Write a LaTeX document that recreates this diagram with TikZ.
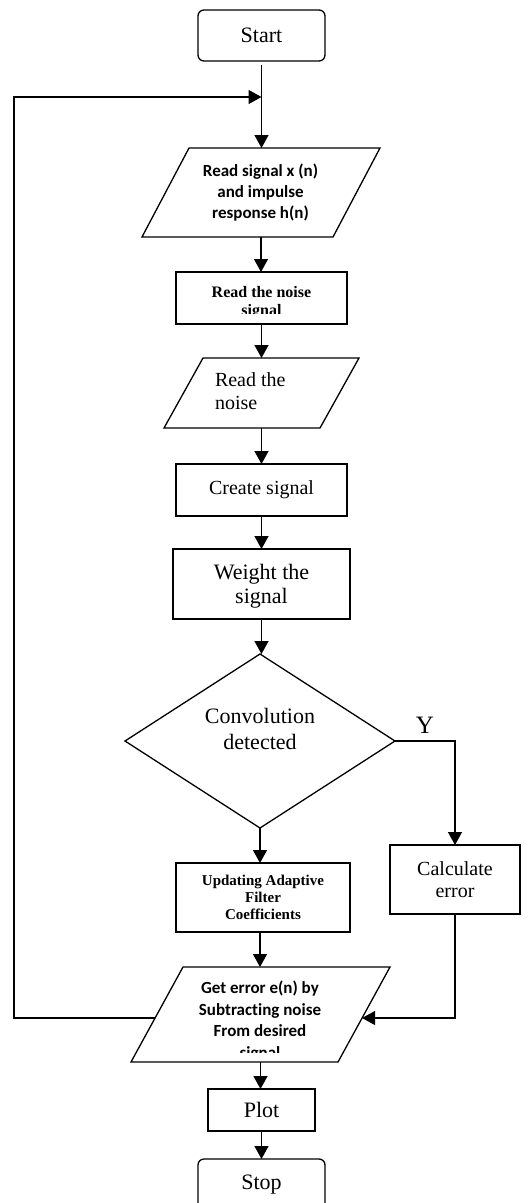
\documentclass[tikz,border=0pt]{standalone}
\usepackage{fontspec}
\setmainfont{Liberation Serif}
\newfontfamily\carlito{Carlito}[Ligatures=NoCommon]
\usetikzlibrary{arrows.meta,shapes.geometric,calc}
\newcommand\fsz[2]{\fontsize{#1}{#2}\selectfont}
\newcommand\paragram[2]{%
  \draw[ln] ($(#1.north west)+(#2,0)$) -- (#1.north east)
    -- ($(#1.south east)-(#2,0)$) -- (#1.south west) -- cycle;}
\begin{document}
\begin{tikzpicture}[x=1pt,y=-1pt,
  every node/.style={inner sep=0pt, outer sep=0pt},
  ln/.style={line width=1.3pt},
  arr/.style={ln,-{Triangle[length=13pt,width=14pt]}},
  boxnode/.style={draw,ln,rectangle,align=center},
  termnode/.style={boxnode,rounded corners=6pt},
  parabox/.style={rectangle},
  txt/.style={align=center}
]
\path[use as bounding box, clip] (0,0) rectangle (529,1203);

% nodes
\node[termnode, minimum width=127, minimum height=51, font=\fsz{22}{26}] (start) at (261.5,35.5) {Start};

\node[parabox, minimum width=238, minimum height=89] (p1) at (261,192.5) {};
\paragram{p1}{47}
\node[txt, font=\carlito\bfseries\fsz{17}{21.3}] (p1t) at (260.5,192.4) {Read signal x (n)\\and impulse\\response h(n)};

\node[boxnode, minimum width=171, minimum height=52] (b2) at (261.5,298) {};
\begin{scope}
  \clip (176,272) rectangle (347,313.5);
  \node[txt, font=\bfseries\fsz{16}{18}] (b2t) at (261.5,302.3) {Read the noise\\signal};
\end{scope}

\node[parabox, minimum width=195, minimum height=70] (p2) at (261.5,393) {};
\paragram{p2}{39}
\node[anchor=north west, align=left, font=\fsz{20}{23.3}] (p2t) at (215,372.3) {Read the\\noise};

\node[boxnode, minimum width=171, minimum height=52, font=\fsz{20}{24}] (b3) at (261.5,490) {Create signal};

\node[boxnode, minimum width=177, minimum height=70, font=\fsz{22}{24.5}, text depth=0pt] (b4) at (261.5,584) {Weight the\\signal};

\node[draw, ln, diamond, minimum width=270, minimum height=174] (d) at (260,741) {};
\node[txt, font=\fsz{22}{26.7}] (dt) at (260,729) {Convolution\\detected};
\node[font=\fsz{25}{25}] (ylab) at (425,725) {Y};

\node[boxnode, minimum width=130, minimum height=69, font=\fsz{20}{22}] (calc) at (455,879.5) {Calculate\\error};

\node[boxnode, minimum width=174, minimum height=69, font=\bfseries\fsz{15}{17.3}] (upd) at (263,897.5) {Updating Adaptive\\Filter\\Coefficients};

\node[parabox, minimum width=259, minimum height=95] (p3) at (260.5,1014.5) {};
\paragram{p3}{52}
\begin{scope}
  \clip (120,967) rectangle (400,1052);
  \node[txt, font=\carlito\bfseries\fsz{17}{21.5}] (p3t) at (260,1020.9) {Get error e(n) by\\Subtracting noise\\From desired\\signal};
\end{scope}

\node[boxnode, minimum width=107, minimum height=42, font=\fsz{22}{24}] (plot) at (261.5,1110) {Plot};
\node[termnode, minimum width=127, minimum height=51, font=\fsz{22}{26}] (stop) at (261.5,1184.5) {Stop};

% connectors
\coordinate (j) at (261.5,97);
\coordinate (lc) at (14,97);
\coordinate (lp) at ($($(p3.north west)+(52,0)$)!0.537!(p3.south west)$);
\coordinate (rp) at ($(p3.north east)!0.537!($(p3.south east)-(52,0)$)$);

\draw[arr, shorten <=4pt] (start.south) -- (start.south |- p1.north);
\draw[arr] (p1.south) -- (p1.south |- b2.north);
\draw[arr] (b2.south) -- (b2.south |- p2.north);
\draw[arr] (p2.south) -- (p2.south |- b3.north);
\draw[arr] (b3.south) -- (b3.south |- b4.north);
\draw[arr] (b4.south) -- (b4.south |- d.north);
\draw[arr] (d.south) -- (d.south |- upd.north);
\draw[arr] (d.east) -| (calc.north);
\draw[arr] (upd.south -| d.south) -- (d.south |- p3.north);
\draw[arr] (calc.south) |- (rp);
\draw[arr] (lp) -| (lc) -- (j);
\draw[arr] (p3.south) -- (p3.south |- plot.north);
\draw[arr] (plot.south) -- (plot.south |- stop.north);
\end{tikzpicture}
\end{document}
